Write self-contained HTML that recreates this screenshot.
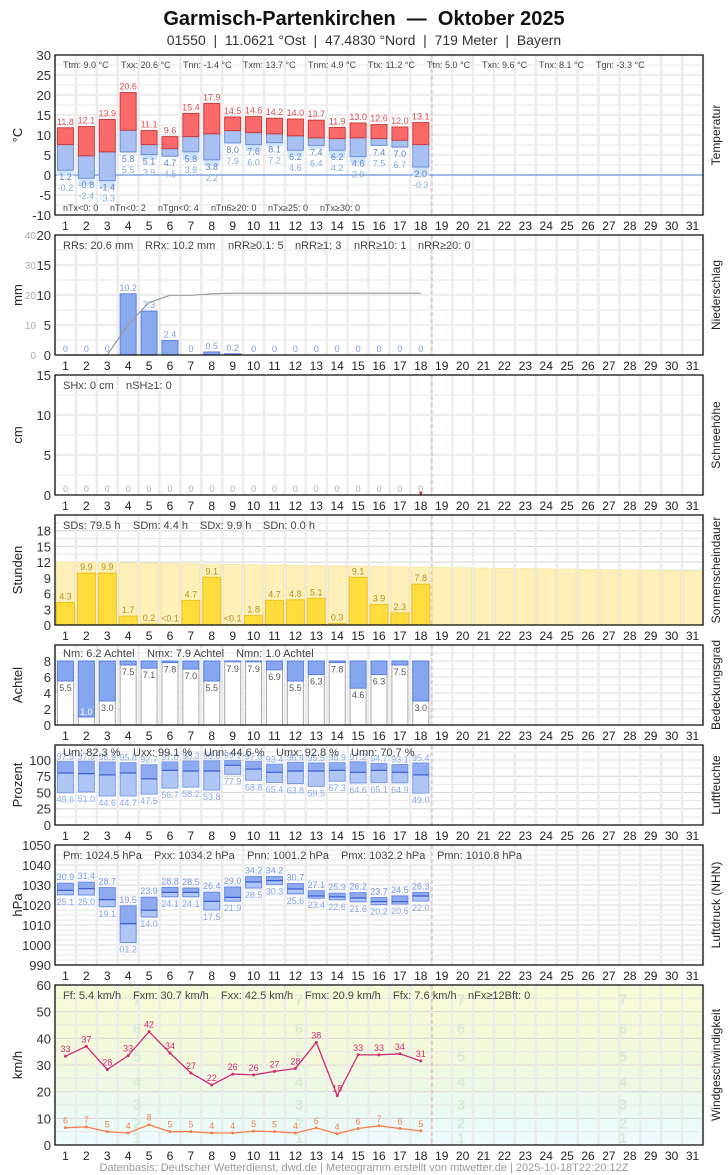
<!DOCTYPE html>
<html><head><meta charset="utf-8"><style>
body{margin:0;background:#fff;font-family:"Liberation Sans",sans-serif;}
svg{display:block}
</style></head><body>
<svg id="s" width="728" height="1175" xmlns="http://www.w3.org/2000/svg" font-family="Liberation Sans, sans-serif"></svg>
<script>
const S=document.getElementById('s');let h='';
const X0=55,X1=703,DW=(X1-X0)/31;
const cx=d=>X0+(d-0.5)*DW;
function t(x,y,s,o){o=o||{};h+=`<text x="${x}" y="${y}" font-size="${o.fs||12}" fill="${o.c||'#333'}" text-anchor="${o.a||'start'}"${o.fw?` font-weight="${o.fw}"`:''}${o.tr?` transform="${o.tr}"`:''}>${s}</text>`;}
function r(x,y,w,hh,f,st,op){if(hh<0){y+=hh;hh=-hh;}h+=`<rect x="${x}" y="${y}" width="${w}" height="${hh}" fill="${f}"${st?` stroke="${st}" stroke-width="1"`:''}${op!=null?` fill-opacity="${op}"`:''}/>`;}
function l(x1,y1,x2,y2,c,w,da){h+=`<line x1="${x1}" y1="${y1}" x2="${x2}" y2="${y2}" stroke="${c}" stroke-width="${w||1}"${da?` stroke-dasharray="${da}"`:''}/>`;}
t(364,25,'Garmisch-Partenkirchen&#160; — &#160;Oktober 2025',{fs:20,fw:'bold',a:'middle',c:'#111'});
t(364,45,'01550&#160; | &#160;11.0621 °Ost&#160; | &#160;47.4830 °Nord&#160; | &#160;719 Meter&#160; | &#160;Bayern',{fs:14,a:'middle',c:'#333'});
function panel(P){
  const Y=v=>P.b-(v-P.min)*(P.b-P.t)/(P.max-P.min);P.Y=Y;
  if(P.bg)P.bg(Y);
  for(let v=P.min;v<=P.max+1e-9;v+=P.minor){l(X0,Y(v),X1,Y(v),'#e6e6e6',1);}
  for(let v of P.ticks){l(X0,Y(v),X1,Y(v),'#d8d8d8',1);t(51,Y(v)+5,v,{fs:13,a:'end',c:'#333'});}
  for(let d=0;d<=31;d++)l(X0+d*DW,P.t,X0+d*DW,P.b,'#ececec',2.5);
  l(432,P.t,432,P.b,'#f0a0a0',1,'4,3');
  for(let d=1;d<=31;d++)t(cx(d),P.b+15,d,{fs:12,a:'middle',c:'#222'});
  const my=(P.t+P.b)/2;
  t(22,my,P.lab,{fs:13,a:'middle',c:'#222',tr:`rotate(-90 22 ${my})`});
  t(720,my,P.rl,{fs:12,a:'middle',c:'#222',tr:`rotate(-90 720 ${my})`});
  P.draw(Y);
  if(P.stats)for(const [x,s] of P.stats)t(x,P.sy,s,{fs:P.sfs||11,c:'#444'});
  if(P.stats2)for(const [x,s] of P.stats2)t(x,P.sy2,s,{fs:P.sfs||10,c:'#444'});
  h+=`<rect x="${X0}" y="${P.t}" width="${X1-X0}" height="${P.b-P.t}" fill="none" stroke="#000" stroke-width="1.2"/>`;
}
const f1=v=>v.toFixed(1);
const tmx=[11.8,12.1,13.9,20.6,11.1,9.6,15.4,17.9,14.5,14.6,14.2,14.0,13.7,11.9,13.0,12.6,12.0,13.1];
const tmd=[7.6,4.8,5.8,11.2,7.6,6.6,9.6,10.3,11.1,10.6,10.3,9.8,9.3,9.1,9.3,9.1,8.7,7.6];
const tmn=[1.2,-0.8,-1.4,5.8,5.1,4.7,5.8,3.8,8.0,7.6,8.1,6.2,7.4,6.2,4.6,7.4,7.0,2.0];
const tgn=[-0.2,-2.4,-3.3,5.5,3.9,4.5,3.8,2.2,7.9,6.0,7.2,4.6,6.4,4.2,2.9,7.5,6.7,-0.3];
panel({t:55,b:215,min:-10,max:30,minor:2.5,ticks:[-10,-5,0,5,10,15,20,25,30],lab:'°C',rl:'Temperatur',sy:68,sfs:9,
 stats:[[63,'Ttm: 9.0 °C'],[121,'Txx: 20.6 °C'],[183,'Tnn: -1.4 °C'],[243,'Txm: 13.7 °C'],[308,'Tnm: 4.9 °C'],[368,'Ttx: 11.2 °C'],[427,'Ttn: 5.0 °C'],[482,'Txn: 9.6 °C'],[539,'Tnx: 8.1 °C'],[596,'Tgn: -3.3 °C']],
 sy2:211,stats2:[[63,'nTx&lt;0: 0'],[110,'nTn&lt;0: 2'],[158,'nTgn&lt;0: 4'],[211,'nTn6≥20: 0'],[268,'nTx≥25: 0'],[320,'nTx≥30: 0']],
 draw:Y=>{l(X0,Y(0),X1,Y(0),'#6f8fd8',1.2);
  for(let i=0;i<18;i++){const x=cx(i+1)-8;
   r(x,Y(tmn[i]),16,Y(tgn[i])-Y(tmn[i]),'#cfe3f7');
   r(x,Y(tmd[i]),16,Y(tmn[i])-Y(tmd[i]),'#a9c1f2','#6f8fd8');
   r(x,Y(tmx[i]),16,Y(tmd[i])-Y(tmx[i]),'#fb6a6a','#c83c3c');
   t(cx(i+1),Y(tmx[i])-3,f1(tmx[i]),{fs:9,a:'middle',c:'#e05050'});
   t(cx(i+1),Y(tmn[i])+10,f1(tmn[i]),{fs:9,a:'middle',c:'#5a7fd0'});
   t(cx(i+1),Y(tmn[i])+21,f1(tgn[i]),{fs:9,a:'middle',c:'#80b0e0'});}
 }});
const rr=[0,0,0,10.2,7.3,2.4,0,0.5,0.2,0,0,0,0,0,0,0,0,0];
panel({t:235,b:355,min:0,max:20,minor:2.5,ticks:[0,5,10,15,20],lab:'mm',rl:'Niederschlag',sy:249,
 stats:[[63,'RRs: 20.6 mm'],[145,'RRx: 10.2 mm'],[228,'nRR≥0.1: 5'],[295,'nRR≥1: 3'],[354,'nRR≥10: 1'],[418,'nRR≥20: 0']],
 draw:Y=>{
  [0,10,20,30,40].forEach(v=>t(36,355-v*3+4,v,{fs:10,a:'end',c:'#aaa'}));
  let cum=0,pts=[];
  for(let i=0;i<18;i++){const v=rr[i];cum+=v;pts.push(`${cx(i+1)},${355-cum*3}`);
   if(v>0)r(cx(i+1)-8,Y(v),16,Y(0)-Y(v),'#8aaaf0','#5a80e0');
   t(cx(i+1),Y(v)-3,v?f1(v):'0',{fs:9,a:'middle',c:'#7a9ae0'});}
  h+=`<polyline points="${pts.join(' ')}" fill="none" stroke="#999" stroke-width="1.2"/>`;
 }});
panel({t:375,b:495,min:0,max:15,minor:2.5,ticks:[0,5,10,15],lab:'cm',rl:'Schneehöhe',sy:389,
 stats:[[63,'SHx: 0 cm'],[126,'nSH≥1: 0']],
 draw:Y=>{for(let i=0;i<18;i++)t(cx(i+1),492,'0',{fs:9,a:'middle',c:'#aaa'});
  h+=`<circle cx="${cx(18)}" cy="493" r="1.5" fill="#e03030"/>`;}});
const sd=[4.3,9.9,9.9,1.7,0.2,0.05,4.7,9.1,0.05,1.8,4.7,4.8,5.1,0.3,9.1,3.9,2.3,7.8];
panel({t:515,b:625,min:0,max:21,minor:1.5,ticks:[0,3,6,9,12,15,18],lab:'Stunden',rl:'Sonnenscheindauer',sy:529,
 stats:[[63,'SDs: 79.5 h'],[133,'SDm: 4.4 h'],[200,'SDx: 9.9 h'],[263,'SDn: 0.0 h']],
 draw:Y=>{for(let d=1;d<=31;d++){const p=12-(d-1)*1.7/30;r(cx(d)-9,Y(p),18,Y(0)-Y(p),'#fdf0b8','#f8e8a0');}
  for(let i=0;i<18;i++){const v=sd[i];r(cx(i+1)-9,Y(v),18,Y(0)-Y(v),'#fddc3c','#f0c020');
   t(cx(i+1),Y(v)-3,v<0.1?'&lt;0.1':f1(v),{fs:9,a:'middle',c:'#b09020'});}}});
const nn=[5.5,1.0,3.0,7.5,7.1,7.8,7.0,5.5,7.9,7.9,6.9,5.5,6.3,7.8,4.6,6.3,7.5,3.0];
panel({t:645,b:725,min:0,max:10,minor:1,ticks:[0,2,4,6,8],lab:'Achtel',rl:'Bedeckungsgrad',sy:657,
 stats:[[63,'Nm: 6.2 Achtel'],[147,'Nmx: 7.9 Achtel'],[236,'Nmn: 1.0 Achtel']],
 draw:Y=>{for(let i=0;i<18;i++){const x=cx(i+1)-8,v=nn[i];
  r(x,Y(8),16,Y(0)-Y(8),'#fff','#aaa');r(x,Y(8),16,Y(v)-Y(8),'#86a6f0','#5a80e0');
  t(cx(i+1),v<2?Y(v)-2:Y(v)+10,f1(v),{fs:9,a:'middle',c:v<2?'#fff':'#555'});}}});
const ux=[97.5,97.9,96.9,95.8,92.7,97.0,98.3,98.6,99.1,97.8,93.4,96.4,95.5,95.9,97.2,94.7,93.1,95.4];
const un=[49.6,51.0,44.6,44.7,47.5,56.7,58.2,53.8,77.9,68.8,65.4,63.8,59.5,67.3,64.6,65.1,64.9,49.0];
const um=[80,79,77,80,71,84,83,83,92,86,81,83,83,84,81,84,81,77];
panel({t:745,b:825,min:0,max:123,minor:12.5,ticks:[0,25,50,75,100],lab:'Prozent',rl:'Luftfeuchte',sy:756,
 stats:[[63,'Um: 82.3 %'],[133,'Uxx: 99.1 %'],[204,'Unn: 44.6 %'],[276,'Umx: 92.8 %'],[351,'Umn: 70.7 %']],
 draw:Y=>{for(let i=0;i<18;i++){const x=cx(i+1)-8;
  r(x,Y(um[i]),16,Y(un[i])-Y(um[i]),'#b0c6f4','#7a9ae8');r(x,Y(ux[i]),16,Y(um[i])-Y(ux[i]),'#8eaaf0','#7a9ae8');
  l(x,Y(um[i]),x+16,Y(um[i]),'#3a60d0',1.2);
  t(cx(i+1),Y(ux[i])-2,f1(ux[i]),{fs:9,a:'middle',c:'#8aa8ea'});t(cx(i+1),Y(un[i])+10,f1(un[i]),{fs:9,a:'middle',c:'#8aa8ea'});}}});
const px=[30.9,31.4,28.7,19.5,23.9,28.8,28.5,26.4,29.0,34.2,34.2,30.7,27.1,25.9,26.2,23.7,24.5,26.3];
const pn=[25.1,25.0,19.1,1.2,14.0,24.1,24.1,17.5,21.9,28.5,30.3,25.6,23.4,22.6,21.6,20.2,20.5,22.0];
const pm=[27.3,28.2,22.7,10.7,17.4,26.3,26.3,21.8,23.8,31.5,32.2,28.0,24.5,24.1,23.5,21.7,21.7,24.5];
panel({t:845,b:965,min:990,max:1050,minor:2.5,ticks:[990,1000,1010,1020,1030,1040,1050],lab:'hPa',rl:'Luftdruck (NHN)',sy:859,
 stats:[[63,'Pm: 1024.5 hPa'],[154,'Pxx: 1034.2 hPa'],[247,'Pnn: 1001.2 hPa'],[341,'Pmx: 1032.2 hPa'],[437,'Pmn: 1010.8 hPa']],
 draw:Y=>{for(let i=0;i<18;i++){const x=cx(i+1)-8,a=1000+px[i],b=1000+pn[i],m=1000+pm[i];
  r(x,Y(m),16,Y(b)-Y(m),'#b0c6f4','#6a8ae8');r(x,Y(a),16,Y(m)-Y(a),'#8eaaf0','#6a8ae8');
  l(x,Y(m),x+16,Y(m),'#3a60d0',1.2);
  t(cx(i+1),Y(a)-3,f1(px[i]),{fs:9,a:'middle',c:'#7a9ae8'});t(cx(i+1),Y(b)+10,(pn[i]<10?'0':'')+f1(pn[i]),{fs:9,a:'middle',c:'#8aa8ea'});}}});
const fx=[33.3,37,28.3,33.5,42.5,34.5,27,22.5,26.6,26.3,27.6,28.7,38.5,18.5,33.8,33.8,34.2,31.5];
const fxl=[33,37,28,33,42,34,27,22,26,26,27,28,38,18,33,33,34,31];
const ff=[6.5,6.8,5,4.5,7.6,5,5,4.5,4.5,5.2,5,4.5,6.4,4.2,6.2,7.2,6.2,5.3];
const ffl=[6,7,5,4,8,5,5,4,4,5,5,4,6,4,6,7,6,5];
panel({t:985,b:1145,min:0,max:60,minor:5,ticks:[0,10,20,30,40,50,60],lab:'km/h',rl:'Windgeschwindigkeit',sy:999,
 bg:Y=>{const B=[[0,1,'#f3fbff'],[1,6,'#eefbfc'],[6,12,'#eafaf6'],[12,20,'#ebf9ee'],[20,29,'#eef9e3'],[29,39,'#f2f9db'],[39,50,'#f4f9d8'],[50,60,'#f7fad6']];
  B.forEach(([a,b,c])=>r(X0,Y(b),X1-X0,Y(a)-Y(b),c));},
 stats:[[63,'Ff: 5.4 km/h'],[133,'Fxm: 30.7 km/h'],[221,'Fxx: 42.5 km/h'],[305,'Fmx: 20.9 km/h'],[393,'Ffx: 7.6 km/h'],[468,'nFx≥12Bft: 0']],
 draw:Y=>{const bc=[[1,3],[2,8.5],[3,15.5],[4,24],[5,33.5],[6,44],[7,55]];
  [137,299,461,623].forEach(x=>bc.forEach(([n,v])=>t(x,Y(v)+6,n,{fs:15,fw:'bold',a:'middle',c:'#d8ead8'})));
  let p1=[],p2=[];
  for(let i=0;i<18;i++){p1.push(`${cx(i+1)},${Y(fx[i])}`);p2.push(`${cx(i+1)},${Y(ff[i])}`);}
  h+=`<polyline points="${p1.join(' ')}" fill="none" stroke="#d22a78" stroke-width="1.3"/>`;
  h+=`<polyline points="${p2.join(' ')}" fill="none" stroke="#f58050" stroke-width="1.3"/>`;
  for(let i=0;i<18;i++){h+=`<circle cx="${cx(i+1)}" cy="${Y(fx[i])}" r="1.5" fill="#d22a78"/><circle cx="${cx(i+1)}" cy="${Y(ff[i])}" r="1.5" fill="#f58050"/>`;
   t(cx(i+1),Y(fx[i])-4,fxl[i],{fs:9,a:'middle',c:'#d22a78'});
   t(cx(i+1),Y(ff[i])-4,ffl[i],{fs:9,a:'middle',c:'#f58050'});}}});
t(364,1171,'Datenbasis: Deutscher Wetterdienst, dwd.de | Meteogramm erstellt von mtwetter.de | 2025-10-18T22:20:12Z',{fs:11,a:'middle',c:'#999'});
S.innerHTML=h;
</script>
</body></html>
